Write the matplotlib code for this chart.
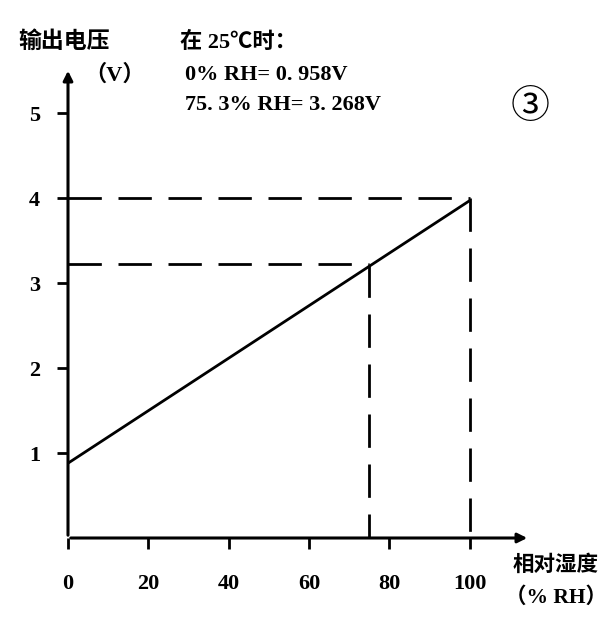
import matplotlib
matplotlib.use("Agg")
import matplotlib.pyplot as plt

plt.rcParams['font.family'] = ['Liberation Serif', 'Noto Sans CJK SC']

# data
rh = [0, 100]
volts = [0.88, 3.97]
guide_x = [75, 100]
guide_y = [3.22, 4.0]
x_ticks = [0, 20, 40, 60, 80, 100]
y_ticks = [1, 2, 3, 4, 5]
notes = ["在 25℃时：", "0% RH= 0. 958V", "75. 3% RH= 3. 268V"]

fig = plt.figure(figsize=(6.15, 6.27), dpi=100)
ax = fig.add_axes([68 / 615, 89 / 627, 462 / 615, 470 / 627])
ax.set_xlim(0, 115)
ax.set_ylim(0, 5.53)

for s in ax.spines.values():
    s.set_visible(False)

# axes with arrows
ax.annotate('', xy=(1, 0), xytext=(0, 0), xycoords='axes fraction',
            arrowprops=dict(arrowstyle='-|>', lw=2.2, color='black', mutation_scale=14))
ax.annotate('', xy=(0, 1), xytext=(0, 0), xycoords='axes fraction',
            arrowprops=dict(arrowstyle='-|>', lw=2.2, color='black', mutation_scale=14))

ax.plot(rh, volts, color='black', lw=2, solid_capstyle='butt')

for gx, gy in zip(guide_x, guide_y):
    ax.plot([0, gx], [gy, gy], color='black', lw=2, dashes=(12, 6))
    ax.plot([gx, gx], [gy, 0], color='black', lw=2, dashes=(12, 6))

ax.set_xticks(x_ticks)
ax.set_yticks(y_ticks)
ax.tick_params(axis='both', direction='out', length=8, width=2, labelsize=16,
               colors='black')
ax.tick_params(axis='x', pad=18)
ax.tick_params(axis='y', pad=12)
for lab in ax.get_xticklabels() + ax.get_yticklabels():
    lab.set_fontweight('bold')

fig.text(18 / 615, 1 - 42 / 627, "输出电压", fontsize=16.5, fontweight='bold', va='center')
fig.text(84 / 615, 1 - 75 / 627, "（V）", fontsize=16, fontweight='bold', va='center')
fig.text(180 / 615, 1 - 42 / 627, notes[0], fontsize=16, fontweight='bold', va='center')
fig.text(185 / 615, 1 - 75 / 627, notes[1], fontsize=16, fontweight='bold', va='center')
fig.text(185 / 615, 1 - 105 / 627, notes[2], fontsize=16, fontweight='bold', va='center')
fig.text(530 / 615, 1 - 107 / 627, "③", fontsize=28, ha='center', va='center',
         family=['Noto Sans CJK SC'])
fig.text(556 / 615, 1 - 566 / 627, "相对湿度", fontsize=15.5, fontweight='bold',
         ha='center', va='center')
fig.text(556 / 615, 1 - 598 / 627, "（% RH）", fontsize=15.5, fontweight='bold',
         ha='center', va='center')

fig.savefig("out.png", dpi=100)
